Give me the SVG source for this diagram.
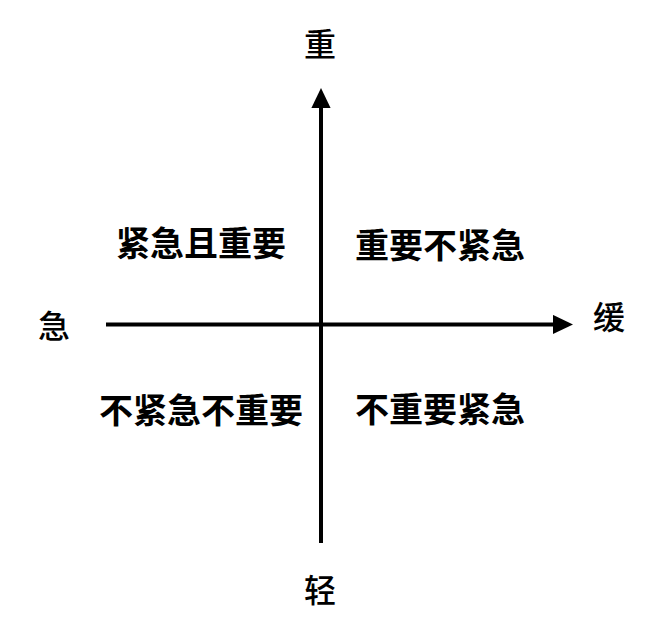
<svg xmlns="http://www.w3.org/2000/svg" width="662" height="622" viewBox="0 0 662 622">
<style>
text{font-family:"Noto Sans CJK SC","Noto Sans CJK JP",sans-serif;text-anchor:middle;dominant-baseline:central;fill:#000}
.ax{font-size:32px;font-weight:500}
.q{font-size:34px;font-weight:700}
.line{stroke:#000;stroke-width:4;fill:none}
</style>
<defs>
<marker id="arr" markerWidth="5" markerHeight="5" refX="0" refY="2.4" orient="auto" markerUnits="strokeWidth" viewBox="0 0 5 4.8">
<path d="M0,0 L5,2.4 L0,4.8 Z" fill="#000"/>
</marker>
</defs>
<rect width="662" height="622" fill="#fff"/>
<g id="connectors">
<line class="line" x1="321" y1="543" x2="321" y2="108" marker-end="url(#arr)"/>
<line class="line" x1="106" y1="324.5" x2="553" y2="324.5" marker-end="url(#arr)"/>
</g>
<g id="label-top"><text class="ax" x="320" y="42">重</text></g>
<g id="label-bottom"><text class="ax" x="320" y="588">轻</text></g>
<g id="label-left"><text class="ax" x="54" y="324">急</text></g>
<g id="label-right"><text class="ax" x="609" y="315">缓</text></g>
<g id="q1"><text class="q" x="201" y="241">紧急且重要</text></g>
<g id="q2"><text class="q" x="440" y="243">重要不紧急</text></g>
<g id="q3"><text class="q" x="201" y="408">不紧急不重要</text></g>
<g id="q4"><text class="q" x="440" y="407">不重要紧急</text></g>
</svg>
